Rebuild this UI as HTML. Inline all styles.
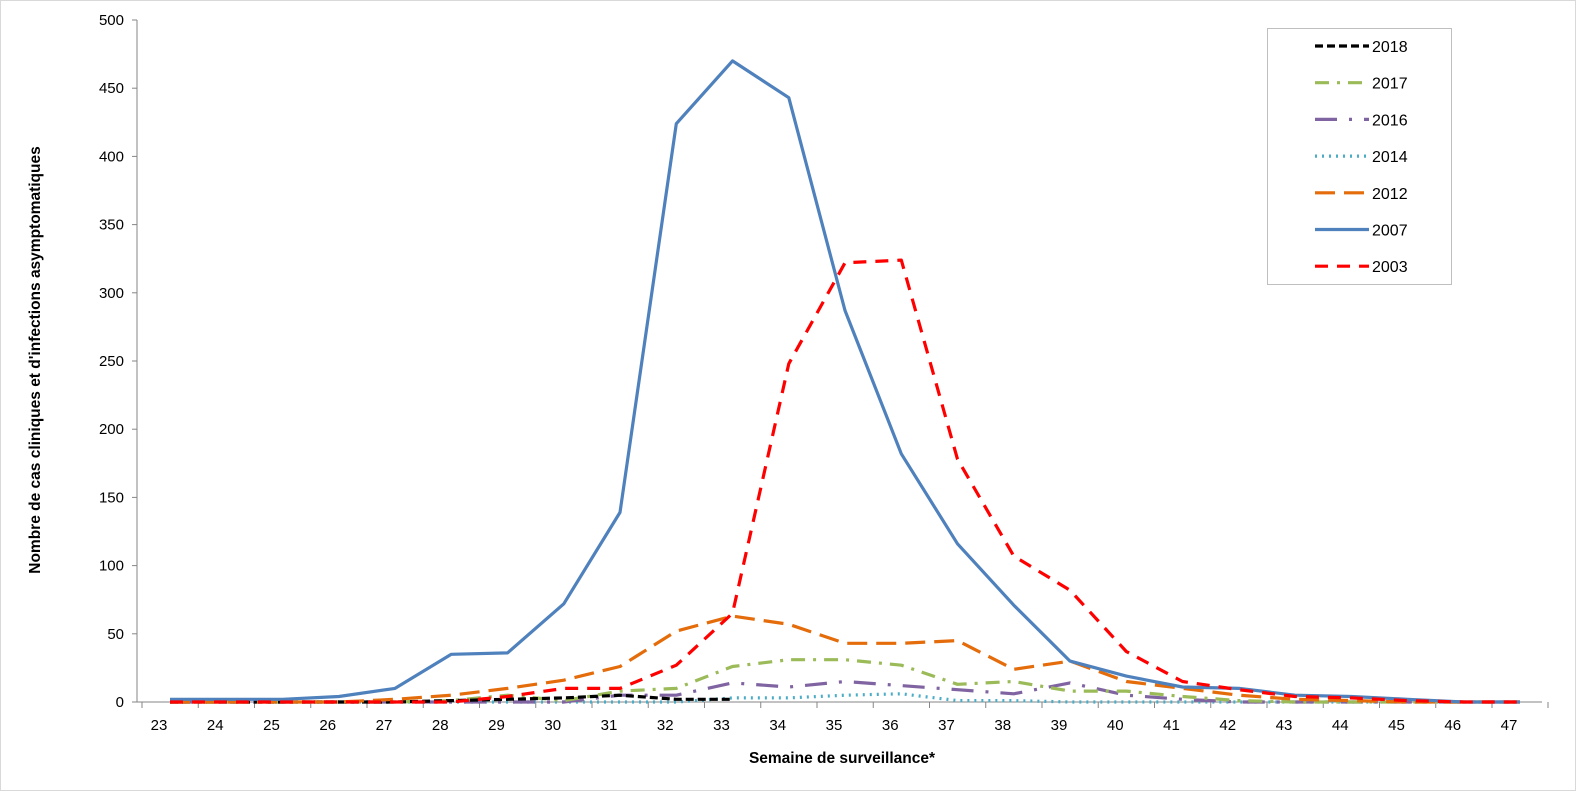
<!DOCTYPE html>
<html><head><meta charset="utf-8"><style>
body{margin:0;background:#fff}
svg{display:block;font-family:"Liberation Sans",Arial,sans-serif}
</style></head><body>
<svg id="chart" width="1576" height="791" viewBox="0 0 1576 791">
<rect x="0.5" y="0.5" width="1575" height="790" fill="#fff" stroke="#d9d9d9"/>
<g id="grid"></g><g id="series"></g><g id="legend"></g>
<text x="842" y="763" text-anchor="middle" font-size="15.5" font-weight="bold">Semaine de surveillance*</text>
<text transform="translate(40,360) rotate(-90)" text-anchor="middle" font-size="15.5" font-weight="bold">Nombre de cas cliniques et d'infections asymptomatiques</text>
</svg>
<script>
const weeks=[23,24,25,26,27,28,29,30,31,32,33,34,35,36,37,38,39,40,41,42,43,44,45,46,47];
const yTicks=[0,50,100,150,200,250,300,350,400,450,500];
const s2018=[0,0,0,0,0,1,2,3,5,2,2,null,null,null,null,null,null,null,null,null,null,null,null,null,null];
const s2017=[0,0,0,0,0,1,5,1,8,10,26,31,31,27,13,15,8,8,4,1,0,0,0,0,0];
const s2016=[0,0,0,0,0,0,0,0,5,5,14,11,15,12,9,6,14,5,2,0,0,0,0,0,0];
const s2014=[0,0,0,0,0,0,0,0,0,0,3,3,5,6,1,1,0,0,0,0,0,0,0,0,0];
const s2012=[0,0,0,0,2,5,10,16,26,52,63,57,43,43,45,24,30,15,10,5,2,1,0,0,0];
const s2007=[2,2,2,4,10,35,36,72,139,424,470,443,287,182,116,71,30,19,11,10,5,4,2,0,0];
const s2003=[0,0,0,0,0,0,4,10,10,27,65,248,322,324,178,107,82,37,15,9,4,3,1,0,0];
const seriesNames=["2018","2017","2016","2014","2012","2007","2003"];
const NS="http://www.w3.org/2000/svg";
const X0=170,DX=56.25,Y0=702,YS=682/500;
const xs=i=>X0+DX*i, ys=v=>Y0-v*YS;
function mk(t,a,p){const e=document.createElementNS(NS,t);for(const k in a)e.setAttribute(k,a[k]);p.appendChild(e);return e;}
const grid=document.getElementById('grid');
const yax=mk('line',{x1:137,y1:20,x2:137,y2:Y0,stroke:'#868686'},grid);


const xax=mk('line',{x1:137,y1:Y0,x2:1542,y2:Y0,stroke:'#868686'},grid);


yTicks.forEach(v=>{const y=ys(v);
mk('line',{x1:132,y1:y,x2:137,y2:y,stroke:'#868686'},grid);
const t=mk('text',{x:124,y:y+5,'text-anchor':'end','font-size':15},grid);t.textContent=v;

});
weeks.forEach((w,i)=>{const x=xs(i)-28;
mk('line',{x1:x,y1:Y0,x2:x,y2:Y0+6,stroke:'#868686'},grid);
const t=mk('text',{x:xs(i)-11,y:Y0+28,'text-anchor':'middle','font-size':15},grid);t.textContent=w;

});
mk('line',{x1:xs(24)+28,y1:Y0,x2:xs(24)+28,y2:Y0+6,stroke:'#868686'},grid);
const styles={"2018":["#000","8,4"],"2017":["#9bbb59","14,8,3,8"],"2016":["#8064a2","22,12,3,12"],"2014":["#4bacc6","2,5"],"2012":["#e46c0a","20,9"],"2007":["#4f81bd",""],"2003":["#ff0000","13,9"]};
const data={"2018":s2018,"2017":s2017,"2016":s2016,"2014":s2014,"2012":s2012,"2007":s2007,"2003":s2003};
const sg=document.getElementById('series');
["2014","2016","2017","2018","2012","2007","2003"].forEach(n=>{
let d="";data[n].forEach((v,i)=>{if(v===null)return;d+=(d?"L":"M")+xs(i).toFixed(1)+","+ys(v).toFixed(1);});
const p=mk('path',{d:d,fill:'none',stroke:styles[n][0],'stroke-width':3.2,'stroke-dasharray':styles[n][1],'stroke-linejoin':'round'},sg);

});
const lg=document.getElementById('legend');
const box=mk('rect',{x:1267.5,y:28.5,width:184,height:256,fill:'#fff',stroke:'#bfbfbf'},lg);


seriesNames.forEach((n,i)=>{const y=46+i*36.7;
const l=mk('line',{x1:1315,y1:y,x2:1369,y2:y,stroke:styles[n][0],'stroke-width':3.2,'stroke-dasharray':styles[n][1]},lg);


const t=mk('text',{x:1372,y:y+6,'font-size':16},lg);t.textContent=n;

});
</script>
</body></html>
